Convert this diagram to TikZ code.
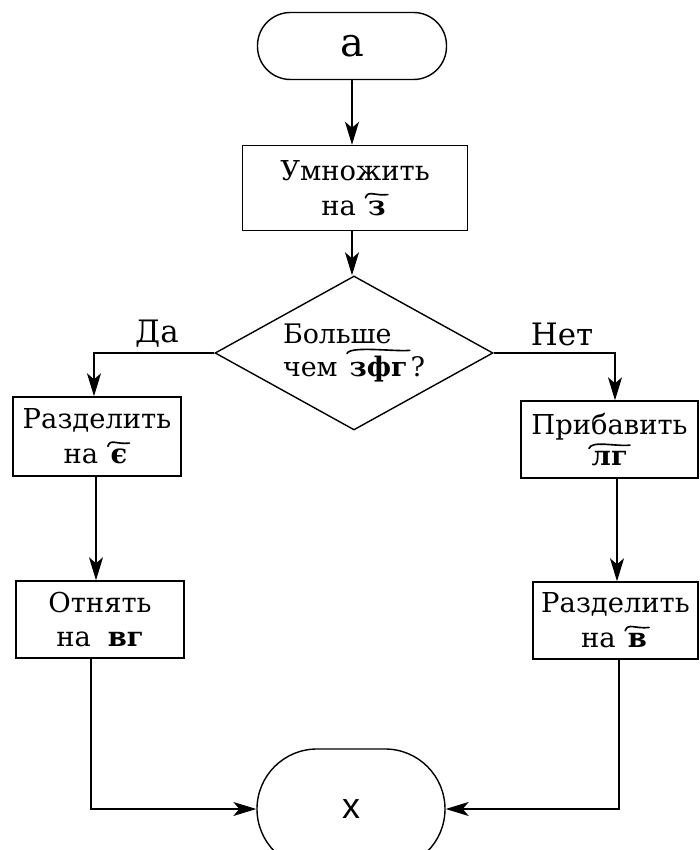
\documentclass[tikz,border=0pt]{standalone}
\usepackage{fontspec}
\setmainfont{DejaVu Serif}
\setsansfont{Liberation Sans}
\usetikzlibrary{shapes.geometric,arrows.meta}
\newcommand\tit[1]{\tikz[baseline=(tt.base)]{\node[shape=rectangle,draw=none,inner sep=0pt,outer sep=0pt,minimum width=0pt,minimum height=0pt,anchor=base] (tt) at (0,0) {\bfseries #1};
 \draw[line width=0.06em,line cap=round] ([shift={(-0.1em,0.1em)}]tt.north west) .. controls +(0.1em,0.3em) and +(-0.5em,-0.06em) .. ([shift={(0.08em,0.22em)}]tt.north east);}}
\begin{document}
\begin{tikzpicture}[x=1bp,y=1bp,line width=1.4bp,
  conn/.style={-{Stealth[length=23bp,width=14bp,inset=6bp]},line width=1.4bp},
  box/.style={draw,line width=1.4bp,rectangle,align=center,font=\fontsize{27.5}{35}\selectfont,inner sep=0pt},
  term/.style={draw,line width=1.4bp,rectangle,inner sep=0pt},
  dec/.style={draw,line width=1.4bp,diamond,aspect=1.805,minimum width=278bp,minimum height=154bp,inner sep=0pt,align=left,font=\fontsize{27}{32}\selectfont},
  lab/.style={font=\fontsize{31}{34}\selectfont,anchor=base,inner sep=0pt}]
\useasboundingbox (0,0) rectangle (700,850);
\clip (0,0) rectangle (700,850);
\node[term,rounded corners=33bp,minimum width=189bp,minimum height=67bp,font=\fontsize{40}{40}\selectfont] (start) at (352,804) {a};
\node[box,minimum width=225bp,minimum height=85bp] (mul) at (355,662) {Умножить\\на \tit{з}};
\node[dec] (cmp) at (354,497) {Больше\\чем \tit{зфг}?};
\node[box,minimum width=168bp,minimum height=79bp] (L1) at (97,413.5) {Разделить\\на \tit{є}};
\node[box,minimum width=168bp,minimum height=77bp] (L2) at (100,230.5) {Отнять\\на\hspace{0.3em} \textbf{вг}};
\node[box,minimum width=177bp,minimum height=77bp] (R1) at (609.5,410.5) {Прибавить\\[-4bp]\tit{лг}};
\node[box,minimum width=165bp,minimum height=77bp] (R2) at (615.5,229.5) {Разделить\\на \tit{в}};
\node[term,rounded corners=60bp,minimum width=188bp,minimum height=120bp,font=\sffamily\fontsize{36}{36}\selectfont] (end) at (351,41) {x};
\node[lab] (yes) at (157,507) {Да};
\node[lab] (no) at (562,504) {Нет};
\draw[conn] (start.south) -- (start.south |- mul.north);
\draw[conn] (start.south |- mul.south) -- (start.south |- cmp.north);
\draw[conn] (cmp.west) -| ([xshift=-3bp]L1.north);
\draw[conn] (cmp.east) -| ([xshift=5.5bp]R1.north);
\draw[conn] ([xshift=-1bp]L1.south) -- ([xshift=-1bp]L1.south |- L2.north);
\draw[conn] ([xshift=7.5bp]R1.south) -- ([xshift=7.5bp]R1.south |- R2.north);
\draw[conn] ([xshift=-9bp]L2.south) |- (end.west);
\draw[conn] ([xshift=3.5bp]R2.south) |- (end.east);
\end{tikzpicture}
\end{document}
